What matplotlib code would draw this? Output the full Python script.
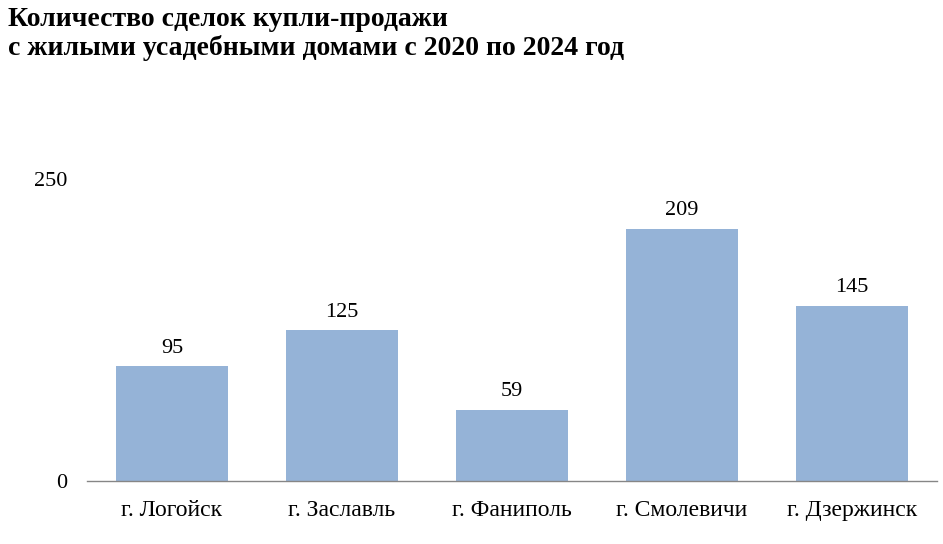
import matplotlib.pyplot as plt

cities = ['г. Логойск', 'г. Заславль', 'г. Фаниполь', 'г. Смолевичи', 'г. Дзержинск']
deals = [95, 125, 59, 209, 145]
title = 'Количество сделок купли-продажи\nс жилыми усадебными домами с 2020 по 2024 год'

plt.rcParams['font.family'] = ['Liberation Serif', 'DejaVu Serif']

fig = plt.figure(figsize=(9.43, 5.44), dpi=100)
ax = fig.add_axes([0.0923, 0.1158, 0.9013, 0.5552])

x = range(len(cities))
bars = ax.bar(x, deals, width=0.66, color='#95B3D7', zorder=2)
for xi, v in zip(x, deals):
    ax.text(xi, v + 7, str(v), ha='center', va='bottom', fontsize=16)

ax.set_xlim(-0.5, len(cities) - 0.5)
ax.set_ylim(0, 250)
ax.set_yticks([0, 250])
ax.set_xticks(list(x))
ax.set_xticklabels(cities)
ax.tick_params(axis='x', length=0, labelsize=17, pad=14)
ax.tick_params(axis='y', length=0, labelsize=16, pad=14.5)
for s in ['top', 'right', 'left']:
    ax.spines[s].set_visible(False)
ax.spines['bottom'].set_color('#868686')
ax.spines['bottom'].set_linewidth(1)

fig.text(0.008, 0.988, title, ha='left', va='top', fontsize=20, fontweight='bold',
         linespacing=1.18)

plt.savefig('out.png', dpi=100)
